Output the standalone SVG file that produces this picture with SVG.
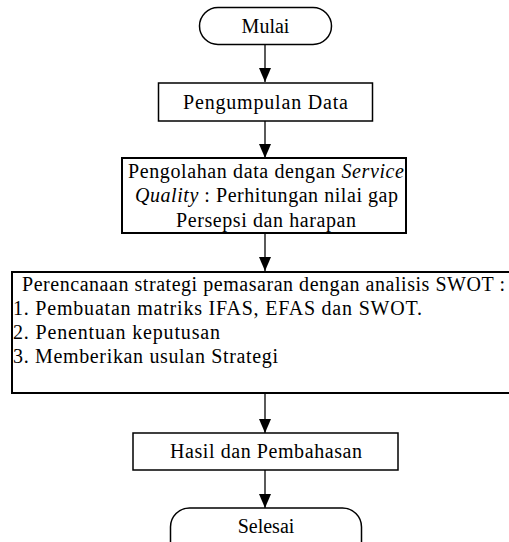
<svg xmlns="http://www.w3.org/2000/svg" width="509" height="542" viewBox="0 0 509 542">
<style>
  text { font-family: 'Liberation Serif', 'DejaVu Serif', 'Times New Roman', Times, serif; font-size: 20px; fill: #000; }
  .c { text-anchor: middle; }
  .box { fill: #fff; stroke: #000; stroke-width: 1.5; }
  .thick { stroke-width: 2; }
  .line { stroke: #000; stroke-width: 1.3; fill: none; }
</style>
<defs>
  <marker id="arrow" viewBox="0 0 14 12" refX="14" refY="6" markerWidth="14" markerHeight="12" markerUnits="userSpaceOnUse" orient="auto">
    <path d="M0,0 L14,6 L0,12 Z" fill="#000"/>
  </marker>
</defs>
<rect x="0" y="0" width="509" height="542" fill="#fff"/>
<g id="connectors">
  <line class="line" x1="265" y1="45" x2="265" y2="82" marker-end="url(#arrow)"/>
  <line class="line" x1="265" y1="121" x2="265" y2="158" marker-end="url(#arrow)"/>
  <line class="line" x1="265" y1="233" x2="265" y2="271" marker-end="url(#arrow)"/>
  <line class="line" x1="265" y1="393" x2="265" y2="433" marker-end="url(#arrow)"/>
  <line class="line" x1="265" y1="470" x2="265" y2="508" marker-end="url(#arrow)"/>
</g>
<g id="mulai">
  <rect class="box" x="199.5" y="7.5" width="132" height="37" rx="18.5" ry="18.5"/>
  <text class="c" x="265.5" y="33" font-family="Liberation Serif, serif">Mulai</text>
</g>
<g id="pengumpulan">
  <rect class="box" x="158.5" y="83" width="214" height="38"/>
  <text class="c" x="265.5" y="109" textLength="165" lengthAdjust="spacing">Pengumpulan Data</text>
</g>
<g id="pengolahan">
  <rect class="box thick" x="122" y="158" width="284" height="75"/>
  <text class="c" x="266" y="178" textLength="276" lengthAdjust="spacing">Pengolahan data dengan <tspan font-style="italic">Service</tspan></text>
  <text class="c" x="266.5" y="202" textLength="263" lengthAdjust="spacing"><tspan font-style="italic">Quality</tspan> : Perhitungan nilai gap</text>
  <text class="c" x="266" y="227" textLength="180" lengthAdjust="spacing">Persepsi dan harapan</text>
</g>
<g id="perencanaan">
  <rect class="box thick" x="12" y="272" width="520" height="121"/>
  <text x="22" y="291" textLength="483" lengthAdjust="spacing">Perencanaan strategi pemasaran dengan analisis SWOT :</text>
  <text x="13" y="315" textLength="409" lengthAdjust="spacing">1. Pembuatan matriks IFAS, EFAS dan SWOT.</text>
  <text x="13" y="339" textLength="207" lengthAdjust="spacing">2. Penentuan keputusan</text>
  <text x="13" y="363" textLength="265" lengthAdjust="spacing">3. Memberikan usulan Strategi</text>
</g>
<g id="hasil">
  <rect class="box" x="133" y="433" width="265" height="37"/>
  <text class="c" x="266" y="458" textLength="192" lengthAdjust="spacing">Hasil dan Pembahasan</text>
</g>
<g id="selesai">
  <rect class="box" x="170.5" y="508" width="191" height="54" rx="19" ry="19"/>
  <text class="c" x="266" y="533">Selesai</text>
</g>
</svg>
